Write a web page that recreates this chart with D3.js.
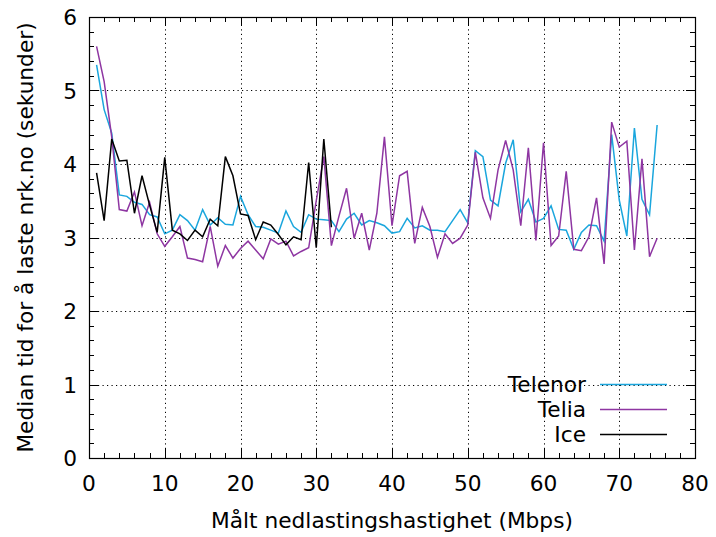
<!DOCTYPE html>
<html>
<head>
<meta charset="utf-8">
<script src="https://cdn.jsdelivr.net/npm/d3@7"></script>
<style>
  body { margin: 0; background: #fff; }
  text { font-family: "DejaVu Sans", sans-serif; fill: #000; font-size: 21.7px; }
  .grid line { stroke: #000; stroke-width: 1; stroke-dasharray: 1.2,3.3; }
  .series { fill: none; stroke-width: 1.5; stroke-linejoin: miter; }
</style>
</head>
<body>
<svg width="716" height="537"></svg>
<script>
var svg = d3.select("svg"),
    width = +svg.attr("width"),
    height = +svg.attr("height"),
    margin = { top: 17, right: 21, bottom: 79, left: 89 };

// Målt hastighet (Mbps), one point per whole Mbps
var telenor = [5.35, 4.74, 4.42, 3.58, 3.56, 3.48, 3.45, 3.31, 3.28, 3.05,
  3.10, 3.31, 3.23, 3.10, 3.38, 3.17, 3.27, 3.18, 3.17, 3.56,
  3.31, 3.15, 3.14, 3.10, 3.06, 3.36, 3.15, 3.07, 3.31, 3.25,
  3.24, 3.23, 3.08, 3.25, 3.33, 3.17, 3.23, 3.20, 3.16, 3.06,
  3.08, 3.26, 3.13, 3.16, 3.10, 3.10, 3.08, 3.23, 3.38, 3.20,
  4.18, 4.10, 3.51, 3.43, 4.01, 4.33, 3.35, 3.52, 3.21, 3.26,
  3.43, 3.11, 3.10, 2.84, 3.07, 3.17, 3.16, 2.95, 4.40, 3.51,
  3.02, 4.49, 3.52, 3.31, 4.53];
var telia = [5.60, 5.12, 4.37, 3.38, 3.36, 3.62, 3.16, 3.48, 3.05, 2.88,
  3.01, 3.15, 2.72, 2.70, 2.67, 3.15, 2.61, 2.89, 2.72, 2.85,
  2.95, 2.83, 2.71, 2.98, 2.91, 2.95, 2.75, 2.81, 2.86, 3.50,
  4.10, 2.89, 3.29, 3.67, 2.99, 3.33, 2.83, 3.33, 4.37, 3.16,
  3.84, 3.90, 2.92, 3.41, 3.15, 2.73, 3.05, 2.92, 2.99, 3.17,
  4.16, 3.54, 3.26, 3.92, 4.32, 3.92, 3.16, 4.22, 2.96, 4.29,
  2.89, 3.02, 3.90, 2.84, 2.82, 3.01, 3.54, 2.64, 4.57, 4.23,
  4.31, 2.83, 4.07, 2.74, 2.99];
var ice = [3.88, 3.23, 4.34, 4.04, 4.05, 3.33, 3.84, 3.44, 3.07, 4.09,
  3.10, 3.05, 2.96, 3.10, 3.01, 3.25, 3.16, 4.10, 3.84, 3.32,
  3.30, 2.97, 3.21, 3.17, 3.04, 2.90, 3.01, 2.97, 4.02, 2.86,
  4.34, 3.14];

var seriesNames = ["Telenor", "Telia", "Ice"];
var seriesColors = ["#1aa6dd", "#8e36a2", "#000000"];
var xTicks = [0, 10, 20, 30, 40, 50, 60, 70, 80];
var yTicks = [0, 1, 2, 3, 4, 5, 6];

var series = [telenor, telia, ice].map(function (vals, i) {
  return {
    name: seriesNames[i],
    color: seriesColors[i],
    points: vals.map(function (v, j) { return [j + 1, v]; })
  };
});

var x = d3.scaleLinear().domain([0, 80]).range([margin.left, width - margin.right]);
var y = d3.scaleLinear().domain([0, 6]).range([height - margin.bottom, margin.top]);

var x0 = x.range()[0], x1 = x.range()[1],
    y0 = y.range()[0], y1 = y.range()[1];

// grid (dotted, only inside)
var grid = svg.append("g").attr("class", "grid");
grid.selectAll(".gx")
  .data(xTicks.slice(1, -1))
  .enter().append("line")
    .attr("x1", function (d) { return Math.round(x(d)) + 0.5; })
    .attr("x2", function (d) { return Math.round(x(d)) + 0.5; })
    .attr("y1", y0).attr("y2", y1);
grid.selectAll(".gy")
  .data(yTicks.slice(1, -1))
  .enter().append("line")
    .attr("y1", function (d) { return Math.round(y(d)) + 0.5; })
    .attr("y2", function (d) { return Math.round(y(d)) + 0.5; })
    .attr("x1", x0).attr("x2", x1);

// ticks on all four sides, pointing inward
var xMinor = d3.range(0, 81, 2), yMinor = d3.range(0, 6.01, 0.2);
var tk = svg.append("g").attr("stroke", "#000").attr("stroke-width", 1);
xMinor.forEach(function (v) {
  var len = (v % 10 === 0) ? 9 : 5, px = Math.round(x(v)) + 0.5;
  tk.append("line").attr("x1", px).attr("x2", px).attr("y1", y0).attr("y2", y0 - len);
  tk.append("line").attr("x1", px).attr("x2", px).attr("y1", y1).attr("y2", y1 + len);
});
yMinor.forEach(function (v) {
  var major = Math.abs(v - Math.round(v)) < 1e-6;
  var len = major ? 9 : 5, py = Math.round(y(v)) + 0.5;
  tk.append("line").attr("y1", py).attr("y2", py).attr("x1", x0).attr("x2", x0 + len);
  tk.append("line").attr("y1", py).attr("y2", py).attr("x1", x1).attr("x2", x1 - len);
});

// tick labels
svg.append("g").selectAll("text")
  .data(xTicks)
  .enter().append("text")
    .attr("x", function (d) { return x(d); })
    .attr("y", y0 + 33)
    .attr("text-anchor", "middle")
    .text(function (d) { return d; });
svg.append("g").selectAll("text")
  .data(yTicks)
  .enter().append("text")
    .attr("x", x0 - 12)
    .attr("y", function (d) { return y(d) + 8; })
    .attr("text-anchor", "end")
    .text(function (d) { return d; });

// the lines
var line = d3.line()
  .x(function (d) { return x(d[0]); })
  .y(function (d) { return y(d[1]); });

svg.append("g").selectAll("path")
  .data(series)
  .enter().append("path")
    .attr("class", "series")
    .attr("stroke", function (d) { return d.color; })
    .attr("d", function (d) { return line(d.points); });

// border
svg.append("rect")
  .attr("x", x0 + 0.5).attr("y", y1 + 0.5)
  .attr("width", x1 - x0).attr("height", y0 - y1)
  .attr("fill", "none").attr("stroke", "#000").attr("stroke-width", 1.2);

// legend
var legend = svg.append("g").attr("transform", "translate(586,384)");
var items = legend.selectAll("g")
  .data(series)
  .enter().append("g")
    .attr("transform", function (d, i) { return "translate(0," + (i * 25) + ")"; });
items.append("text")
  .attr("x", 0).attr("y", 8)
  .attr("text-anchor", "end")
  .text(function (d) { return d.name; });
items.append("line")
  .attr("x1", 14).attr("x2", 81)
  .attr("y1", 0.5).attr("y2", 0.5)
  .attr("stroke", function (d) { return d.color; })
  .attr("stroke-width", 1.5);

// axis titles
svg.append("text")
  .attr("x", (x0 + x1) / 2)
  .attr("y", 528)
  .attr("text-anchor", "middle")
  .text("Målt nedlastingshastighet (Mbps)");
svg.append("text")
  .attr("transform", "translate(33," + ((y0 + y1) / 2) + ")rotate(-90)")
  .attr("text-anchor", "middle")
  .text("Median tid for å laste nrk.no (sekunder)");
</script>
</body>
</html>
